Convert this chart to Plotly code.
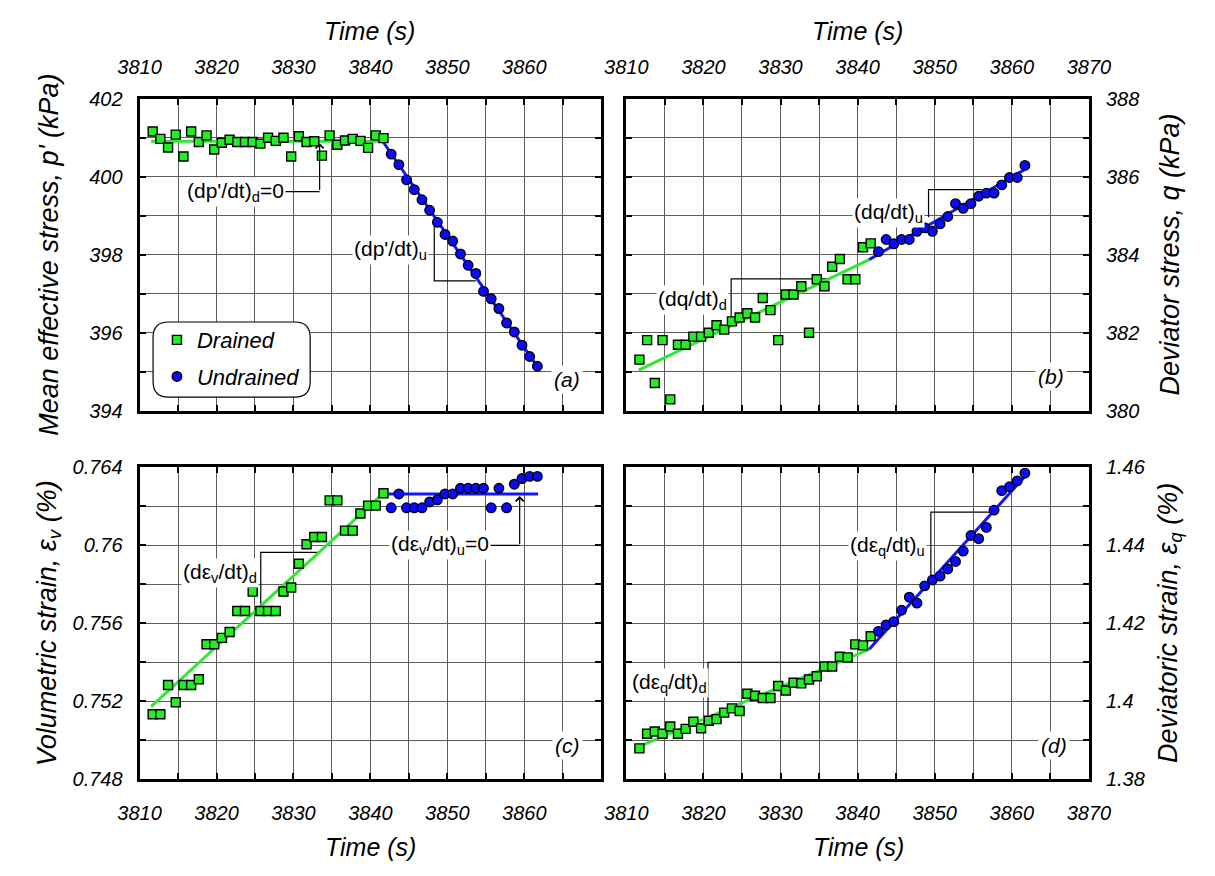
import plotly.graph_objects as go

W, H = 1215, 876
FONT = "Arial, 'Liberation Sans', sans-serif"
GRID = "#5c5c5c"
GREEN_M = "#22ee22"
GREEN_L = "#33e633"
BLUE_M = "#0a0aff"
BLUE_L = "#1414ff"

# ---------------- data ----------------
time_drained = [3811.7, 3812.7, 3813.7, 3814.7, 3815.7, 3816.7, 3817.7, 3818.7, 3819.7, 3820.7,
                3821.7, 3822.7, 3823.7, 3824.7, 3825.7, 3826.7, 3827.7, 3828.7, 3829.7, 3830.7,
                3831.7, 3832.7, 3833.7, 3834.7, 3835.7, 3836.7, 3837.7, 3838.7, 3839.7, 3840.7,
                3841.7]
time_undrained = [3842.7, 3843.7, 3844.7, 3845.7, 3846.7, 3847.7, 3848.7, 3849.7, 3850.7, 3851.7,
                  3852.7, 3853.7, 3854.7, 3855.7, 3856.7, 3857.7, 3858.7, 3859.7, 3860.7, 3861.7]

p_drained = [401.16, 400.97, 400.75, 401.08, 400.52, 401.16, 400.89, 401.06, 400.70, 400.87,
             400.95, 400.89, 400.89, 400.89, 400.85, 401.00, 400.92, 401.00, 400.52, 401.04,
             400.89, 400.91, 400.54, 401.06, 400.82, 400.93, 400.97, 400.92, 400.74, 401.06,
             400.99]
p_undrained = [400.58, 400.31, 399.92, 399.67, 399.41, 399.14, 398.83, 398.52, 398.35, 398.02,
               397.73, 397.52, 397.06, 396.87, 396.62, 396.25, 396.02, 395.68, 395.39, 395.14]

q_drained = [381.31, 381.81, 380.71, 381.81, 380.29, 381.69, 381.69, 381.90, 381.90, 382.00,
             382.19, 382.08, 382.29, 382.39, 382.50, 382.39, 382.89, 382.58, 381.81, 382.98,
             382.98, 383.19, 382.00, 383.37, 383.19, 383.69, 383.89, 383.37, 383.37, 384.19,
             384.29]
q_undrained = [384.08, 384.39, 384.28, 384.39, 384.39, 384.60, 384.69, 384.60, 384.79, 384.98,
               385.31, 385.19, 385.31, 385.50, 385.58, 385.58, 385.79, 385.98, 385.98, 386.29]

ev_drained = [0.75133, 0.75133, 0.75283, 0.75195, 0.75283, 0.75283, 0.75313, 0.75492, 0.75492, 0.75525,
              0.75555, 0.75663, 0.75663, 0.75762, 0.75663, 0.75663, 0.75663, 0.75763, 0.75783, 0.75905,
              0.76005, 0.76042, 0.76042, 0.76230, 0.76230, 0.76075, 0.76075, 0.76163, 0.76203, 0.76203,
              0.76267]
ev_undrained = [0.76192, 0.76263, 0.76192, 0.76192, 0.76192, 0.76222, 0.76233, 0.76263, 0.76263, 0.76292,
                0.76292, 0.76292, 0.76292, 0.76192, 0.76292, 0.76192, 0.76313, 0.76342, 0.76353, 0.76353]

eq_drained = [1.38792, 1.39167, 1.39225, 1.39167, 1.39350, 1.39167, 1.39292, 1.39475, 1.39308, 1.39500,
              1.39542, 1.39708, 1.39817, 1.39750, 1.40192, 1.40142, 1.40083, 1.40083, 1.40392, 1.40275,
              1.40475, 1.40458, 1.40558, 1.40642, 1.40892, 1.40892, 1.41142, 1.41125, 1.41458, 1.41433,
              1.41667]
eq_undrained = [1.41792, 1.41958, 1.42042, 1.42333, 1.42667, 1.42517, 1.42958, 1.43108, 1.43208, 1.43392,
                1.43583, 1.43850, 1.44250, 1.44167, 1.44458, 1.44900, 1.45400, 1.45500, 1.45650, 1.45850]

# fitted lines (end points)
fit_p_drained_t = [3811.5, 3841.6]
fit_p_drained_v = [400.91, 400.91]
fit_p_undrained_t = [3841.6, 3861.8]
fit_p_undrained_v = [400.91, 395.10]

fit_q_drained_t = [3811.6, 3841.5]
fit_q_drained_v = [381.04, 383.875]
fit_q_undrained_t = [3841.5, 3861.8]
fit_q_undrained_v = [383.875, 386.20]

fit_ev_drained_t = [3811.5, 3841.5]
fit_ev_drained_v = [0.75172, 0.76260]
fit_ev_undrained_t = [3841.5, 3861.8]
fit_ev_undrained_v = [0.76263, 0.76263]

fit_eq_drained_t = [3811.3, 3841.5]
fit_eq_drained_v = [1.3881, 1.4133]
fit_eq_undrained_t = [3841.5, 3861.8]
fit_eq_undrained_v = [1.4133, 1.4579]

# tick labels
x_ticks_left = [3810, 3820, 3830, 3840, 3850, 3860]
x_ticks_right = [3810, 3820, 3830, 3840, 3850, 3860, 3870]
p_ticks = [394, 396, 398, 400, 402]
q_ticks = [380, 382, 384, 386, 388]
ev_ticks = [0.748, 0.752, 0.756, 0.760, 0.764]
ev_ticktext = ["0.748", "0.752", "0.756", "0.76", "0.764"]
eq_ticks = [1.38, 1.40, 1.42, 1.44, 1.46]
eq_ticktext = ["1.38", "1.4", "1.42", "1.44", "1.46"]

# slope triangles: (t1, value at t1, value at t2, t2)
tri_p_u = [3848.3, 398.83, 397.33, 3853.7]
tri_q_d = [3823.6, 382.29, 383.38, 3836.4]
tri_q_u = [3849.2, 384.96, 385.67, 3856.1]
tri_ev_d = [3825.75, 0.75683, 0.75963, 3833.3]
tri_eq_d = [3820.6, 1.39542, 1.41000, 3834.9]
tri_eq_u = [3849.5, 1.43108, 1.44850, 3857.4]

# ---------------- figure ----------------
xL = [122 / W, 601 / W]
xR = [627 / W, 1107 / W]
yT = [1 - 410 / H, 1 - 90 / H]
yB = [1 - 788 / H, 1 - 468 / H]

panels = [
    dict(xa="x", ya="y", td=time_drained, tu=time_undrained, vd=p_drained, vu=p_undrained,
         fd=(fit_p_drained_t, fit_p_drained_v), fu=(fit_p_undrained_t, fit_p_undrained_v)),
    dict(xa="x2", ya="y2", td=time_drained, tu=time_undrained, vd=q_drained, vu=q_undrained,
         fd=(fit_q_drained_t, fit_q_drained_v), fu=(fit_q_undrained_t, fit_q_undrained_v)),
    dict(xa="x3", ya="y3", td=time_drained, tu=time_undrained, vd=ev_drained, vu=ev_undrained,
         fd=(fit_ev_drained_t, fit_ev_drained_v), fu=(fit_ev_undrained_t, fit_ev_undrained_v)),
    dict(xa="x4", ya="y4", td=time_drained, tu=time_undrained, vd=eq_drained, vu=eq_undrained,
         fd=(fit_eq_drained_t, fit_eq_drained_v), fu=(fit_eq_undrained_t, fit_eq_undrained_v)),
]

fig = go.Figure()
for i, pn in enumerate(panels):
    fig.add_trace(go.Scatter(x=pn["fd"][0], y=pn["fd"][1], mode="lines", xaxis=pn["xa"], yaxis=pn["ya"],
                             line=dict(color=GREEN_L, width=3), showlegend=False, hoverinfo="skip"))
    fig.add_trace(go.Scatter(x=pn["fu"][0], y=pn["fu"][1], mode="lines", xaxis=pn["xa"], yaxis=pn["ya"],
                             line=dict(color=BLUE_L, width=3), showlegend=False, hoverinfo="skip"))
for i, pn in enumerate(panels):
    fig.add_trace(go.Scatter(x=pn["td"], y=pn["vd"], mode="markers", xaxis=pn["xa"], yaxis=pn["ya"],
                             name="Drained", legendgroup="d", showlegend=(i == 0),
                             marker=dict(symbol="square", size=9, color=GREEN_M,
                                         line=dict(color="black", width=1.4))))
    fig.add_trace(go.Scatter(x=pn["tu"], y=pn["vu"], mode="markers", xaxis=pn["xa"], yaxis=pn["ya"],
                             name="Undrained", legendgroup="u", showlegend=(i == 0),
                             marker=dict(symbol="circle", size=9.5, color=BLUE_M,
                                         line=dict(color="black", width=1.4))))


def xaxis(domain, anchor, side, ticks):
    return dict(domain=domain, anchor=anchor, side=side, range=[3810, 3870],
                tickmode="array", tickvals=ticks, ticktext=[str(v) for v in ticks],
                ticks="inside", ticklen=6, tickwidth=2, tickcolor="black",
                showline=True, linewidth=3, linecolor="black", mirror="ticks",
                showgrid=True, gridcolor=GRID, gridwidth=1, zeroline=False,
                minor=dict(tickmode="linear", tick0=3810, dtick=5, ticks="inside", ticklen=6,
                           tickwidth=2, tickcolor="black", showgrid=True, gridcolor=GRID, gridwidth=1),
                tickfont=dict(family=FONT, size=20, style="italic", color="black"),
                ticklabelstandoff=14, fixedrange=True)


def yaxis(domain, anchor, side, rng, ticks, ticktext, minor_dtick):
    return dict(domain=domain, anchor=anchor, side=side, range=rng,
                tickmode="array", tickvals=ticks, ticktext=ticktext,
                ticks="inside", ticklen=6, tickwidth=2, tickcolor="black",
                showline=True, linewidth=3, linecolor="black", mirror="ticks",
                showgrid=True, gridcolor=GRID, gridwidth=1, zeroline=False,
                minor=dict(tickmode="linear", tick0=rng[0], dtick=minor_dtick, ticks="inside", ticklen=6,
                           tickwidth=2, tickcolor="black", showgrid=True, gridcolor=GRID, gridwidth=1),
                tickfont=dict(family=FONT, size=20, style="italic", color="black"),
                ticklabelstandoff=10, fixedrange=True)


fig.update_layout(
    width=W, height=H, autosize=False,
    margin=dict(l=0, r=0, t=0, b=0),
    paper_bgcolor="white", plot_bgcolor="white",
    font=dict(family=FONT, color="black"),
    xaxis=xaxis(xL, "y", "top", x_ticks_left),
    yaxis=yaxis(yT, "x", "left", [394, 402], p_ticks, [str(v) for v in p_ticks], 1),
    xaxis2=xaxis(xR, "y2", "top", x_ticks_right),
    yaxis2=yaxis(yT, "x2", "right", [380, 388], q_ticks, [str(v) for v in q_ticks], 1),
    xaxis3=xaxis(xL, "y3", "bottom", x_ticks_left),
    yaxis3=yaxis(yB, "x3", "left", [0.748, 0.764], ev_ticks, ev_ticktext, 0.002),
    xaxis4=xaxis(xR, "y4", "bottom", x_ticks_right),
    yaxis4=yaxis(yB, "x4", "right", [1.38, 1.46], eq_ticks, eq_ticktext, 0.01),
    legend=dict(x=140 / W, y=1 - 316 / H, xanchor="left", yanchor="top",
                bgcolor="rgba(0,0,0,0)", borderwidth=0, tracegroupgap=5,
                font=dict(family=FONT, size=22, style="italic", color="black")),
    showlegend=True,
)

shapes = []
# rounded legend box
x0, x1 = 136 / W, 299 / W
yt, yb = 1 - 319 / H, 1 - 396 / H
rx, ry = 16 / W, 16 / H
path = (f"M {x0+rx},{yt} L {x1-rx},{yt} Q {x1},{yt} {x1},{yt-ry} L {x1},{yb+ry} "
        f"Q {x1},{yb} {x1-rx},{yb} L {x0+rx},{yb} Q {x0},{yb} {x0},{yb+ry} "
        f"L {x0},{yt-ry} Q {x0},{yt} {x0+rx},{yt} Z")
shapes.append(dict(type="path", path=path, xref="paper", yref="paper", layer="above",
                   fillcolor="white", line=dict(color="black", width=1.2)))

# slope triangles
for tri, xa, ya in [(tri_p_u, "x", "y"), (tri_q_d, "x2", "y2"), (tri_q_u, "x2", "y2"),
                    (tri_ev_d, "x3", "y3"), (tri_eq_d, "x4", "y4"), (tri_eq_u, "x4", "y4")]:
    t1, v1, v2, t2 = tri
    shapes.append(dict(type="path", xref=xa, yref=ya, layer="between",
                       path=f"M {t1},{v1} L {t1},{v2} L {t2},{v2}",
                       line=dict(color="black", width=1.2)))

annotations = []
# elbow connectors with arrow heads
elbows = [
    dict(t=3822.5, v=399.62, corner=3833.4, tip=400.86, xa="x", ya="y"),
    dict(t=3849.0, v=0.75999, corner=3859.4, tip=0.76252, xa="x3", ya="y3"),
]
for e in elbows:
    shapes.append(dict(type="line", xref=e["xa"], yref=e["ya"], layer="above",
                       x0=e["t"], y0=e["v"], x1=e["corner"], y1=e["v"],
                       line=dict(color="black", width=1.2)))
    annotations.append(dict(x=e["corner"], y=e["tip"], xref=e["xa"], yref=e["ya"],
                            ax=e["corner"], ay=e["v"], axref=e["xa"], ayref=e["ya"],
                            text="", showarrow=True, arrowhead=4, arrowsize=1.3,
                            arrowwidth=1.2, arrowcolor="black"))

rate_labels = [
    ("(dp'/dt)<sub>d</sub>=0", 3822.5, 399.62, "x", "y"),
    ("(dp'/dt)<sub>u</sub>", 3842.6, 398.125, "x", "y"),
    ("(dq/dt)<sub>d</sub>", 3818.6, 382.83, "x2", "y2"),
    ("(dq/dt)<sub>u</sub>", 3844.0, 385.08, "x2", "y2"),
    ("(dε<sub>v</sub>/dt)<sub>d</sub>", 3820.5, 0.75857, "x3", "y3"),
    ("(dε<sub>v</sub>/dt)<sub>u</sub>=0", 3849.0, 0.75999, "x3", "y3"),
    ("(dε<sub>q</sub>/dt)<sub>d</sub>", 3815.6, 1.40467, "x4", "y4"),
    ("(dε<sub>q</sub>/dt)<sub>u</sub>", 3843.9, 1.43993, "x4", "y4"),
]
for txt, t, v, xa, ya in rate_labels:
    annotations.append(dict(text=txt, x=t, y=v, xref=xa, yref=ya, showarrow=False,
                            xanchor="center", yanchor="middle", bgcolor="white", borderpad=1,
                            font=dict(family=FONT, size=21, color="black")))

panel_tags = [("(a)", 3865.5, 394.8, "x", "y"), ("(b)", 3865.1, 380.875, "x2", "y2"),
              ("(c)", 3865.6, 0.74975, "x3", "y3"), ("(d)", 3865.5, 1.38875, "x4", "y4")]
for txt, t, v, xa, ya in panel_tags:
    annotations.append(dict(text=txt, x=t, y=v, xref=xa, yref=ya, showarrow=False,
                            xanchor="center", yanchor="middle", bgcolor="white", borderpad=2,
                            font=dict(family=FONT, size=21, style="italic", color="black")))

# axis titles
TF = dict(family=FONT, size=25, style="italic", color="black")
YF = dict(family=FONT, size=27, style="italic", color="black")
for txt, px, py, ang, f in [("Time (s)", 361, 21, 0, TF), ("Time (s)", 867, 21, 0, TF),
                            ("Time (s)", 362, 858, 0, TF), ("Time (s)", 868, 858, 0, TF),
                            ("Mean effective stress, p' (kPa)", 28, 250, -90, YF),
                            ("Volumetric strain, ε<sub>v</sub> (%)", 28, 628, -90, YF),
                            ("Deviator stress, q (kPa)", 1191, 250, -90, YF),
                            ("Deviatoric strain, ε<sub>q</sub> (%)", 1191, 628, -90, YF)]:
    annotations.append(dict(text=txt, x=px / W, y=1 - py / H, xref="paper", yref="paper",
                            showarrow=False, xanchor="center", yanchor="middle",
                            textangle=ang, font=f))

fig.update_layout(shapes=shapes, annotations=annotations)
fig.write_html("out.html")
